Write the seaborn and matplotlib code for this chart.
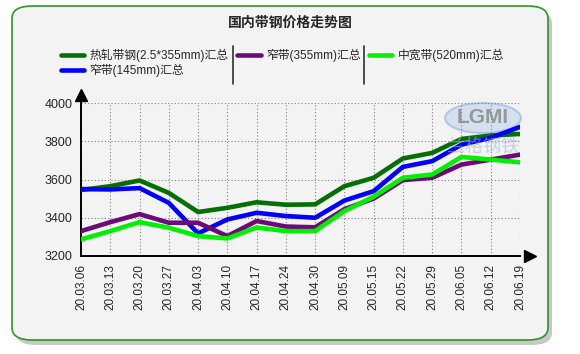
import seaborn as sns
import numpy as np
import pandas as pd
import matplotlib
matplotlib.use("Agg")
import matplotlib.pyplot as plt
from matplotlib.patches import FancyBboxPatch, Ellipse
from matplotlib.lines import Line2D

dates = ["20.03.06", "20.03.13", "20.03.20", "20.03.27", "20.04.03", "20.04.10",
         "20.04.17", "20.04.24", "20.04.30", "20.05.09", "20.05.15", "20.05.22",
         "20.05.29", "20.06.05", "20.06.12", "20.06.19"]

hot_rolled = [3545, 3565, 3595, 3530, 3430, 3452, 3481, 3468, 3470, 3565, 3609, 3710, 3739, 3812, 3830, 3838]
narrow_145 = [3550, 3548, 3555, 3478, 3318, 3391, 3426, 3409, 3400, 3490, 3539, 3666, 3696, 3782, 3818, 3875]
narrow_355 = [3330, 3377, 3419, 3374, 3374, 3304, 3383, 3354, 3350, 3445, 3500, 3597, 3609, 3678, 3704, 3730]
mid_520 = [3287, 3330, 3377, 3348, 3304, 3292, 3349, 3330, 3330, 3435, 3510, 3609, 3626, 3718, 3704, 3690]

series_names = ["热轧带钢(2.5*355mm)汇总", "窄带(145mm)汇总", "窄带(355mm)汇总", "中宽带(520mm)汇总"]
series_colors = ["#047004", "#0000ff", "#6e0a78", "#00f000"]
y_ticks = [3200, 3400, 3600, 3800, 4000]

df = pd.DataFrame({"idx": np.arange(len(dates))})
for name, vals in zip(series_names, [hot_rolled, narrow_145, narrow_355, mid_520]):
    df[name] = vals
long = df.melt(id_vars="idx", var_name="series", value_name="price")

sns.set_style("white")
plt.rcParams["font.family"] = ["Liberation Sans", "Noto Sans CJK SC", "DejaVu Sans"]

fig = plt.figure(figsize=(5.8, 3.54), dpi=100, facecolor="white")

# rounded panel with shadow
W, H = 580, 354
shadow = FancyBboxPatch((16 / W, 9 / H), 536 / W, 334 / H, boxstyle="round,pad=0,rounding_size=0.035",
                        transform=fig.transFigure, facecolor="#c8c8c8", edgecolor="none", zorder=-2)
panel = FancyBboxPatch((12 / W, 14 / H), 536 / W, 334 / H, boxstyle="round,pad=0,rounding_size=0.035",
                       transform=fig.transFigure, facecolor="#f3f3f3", edgecolor="#2e962e", lw=1.2, zorder=-1)
fig.patches.extend([shadow, panel])

ax = fig.add_axes([81 / W, 1 - 256 / H, 439 / W, 153 / H])
ax.set_facecolor("none")
ax.set_zorder(1)

sns.lineplot(data=long, x="idx", y="price", hue="series", palette=series_colors,
             hue_order=series_names, lw=3.3, ax=ax, legend=False, zorder=3)

ax.set_xlim(0, len(dates) - 1)
ax.set_ylim(3200, 4000)
ax.set_xticks(range(len(dates)))
ax.set_xticklabels(dates, rotation=90, fontsize=8.5)
ax.set_yticks(y_ticks)
ax.set_yticklabels([str(t) for t in y_ticks], fontsize=9)
ax.set_xlabel("")
ax.set_ylabel("")
ax.tick_params(axis="both", direction="out", length=4, width=1, color="black", pad=2)
ax.grid(True, color="#808080", ls=(0, (1, 2)), lw=0.8)
for s in ["top", "right"]:
    ax.spines[s].set_visible(False)
for s in ["left", "bottom"]:
    ax.spines[s].set_color("black")
    ax.spines[s].set_linewidth(1.4)

# axis arrows
ax.plot([0, 0], [1, 1.04], color="black", lw=1.4, transform=ax.transAxes, clip_on=False)
ax.plot(0, 1.055, marker="^", color="black", ms=8, transform=ax.transAxes, clip_on=False)
ax.plot(1.022, 0, marker=">", color="black", ms=9, transform=ax.transAxes, clip_on=False)

# watermark: logo behind the lines, faint lettering over them
logo = Ellipse((483 / W, 1 - 118 / H), 76 / W, 30 / H, transform=fig.transFigure,
               facecolor="#c8d8f0", edgecolor="#9fb8e0", lw=1.5, alpha=0.7, zorder=0.5)
fig.patches.append(logo)
fig.text(483 / W, 1 - 118 / H, "LGMI", ha="center", va="center", fontsize=15, fontweight="bold",
         color="#8a8a8a", alpha=0.85, zorder=0.6)
fig.text(483 / W, 1 - 148 / H, "兰格钢铁", ha="center", va="center", fontsize=13,
         color="#9fb4dc", alpha=0.55, family=["Noto Sans CJK SC", "DejaVu Sans"], zorder=5)

# title
fig.text(290 / W, 1 - 23 / H, "国内带钢价格走势图", ha="center", va="center", fontsize=10,
         fontweight="bold", family=["Noto Sans CJK SC", "DejaVu Sans"])

# legend
handles = [Line2D([0], [0], color=c, lw=3.3) for c in series_colors]
leg = fig.legend(handles, series_names, ncol=3, loc="upper left",
                 bbox_to_anchor=(56 / W, 1 - 44 / H), frameon=False, fontsize=8.5,
                 handlelength=2.0, handletextpad=0.45, columnspacing=0.7,
                 labelspacing=0.15, borderaxespad=0)

for xs in [233, 364]:
    fig.add_artist(Line2D([xs / W, xs / W], [1 - 46 / H, 1 - 84 / H], color="#303030", lw=1.2))

fig.savefig("out.png", dpi=100, facecolor="white")
